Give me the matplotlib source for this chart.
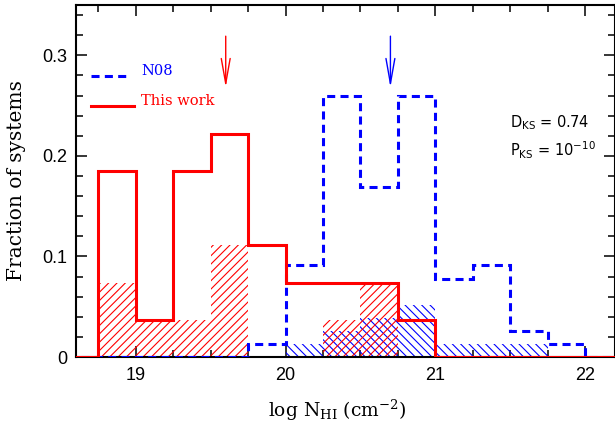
import matplotlib
matplotlib.use('Agg')
import matplotlib.pyplot as plt
from matplotlib.ticker import MultipleLocator, FuncFormatter
import numpy as np

# ---------------- data ----------------
bin_width = 0.25
this_work_start = 18.75
this_work = [0.185, 0.037, 0.185, 0.222, 0.111, 0.074, 0.074, 0.074, 0.037]
this_work_hatched = [0.074, 0.037, 0.037, 0.111, 0.0, 0.0, 0.037, 0.074, 0.0]

n08_start = 19.75
n08 = [0.013, 0.091, 0.260, 0.169, 0.260, 0.078, 0.091, 0.026, 0.013]
n08_hatched_start = 20.0
n08_hatched = [0.013, 0.026, 0.039, 0.052, 0.013, 0.013, 0.013]

arrow_this_work = 19.6
arrow_n08 = 20.7

x_ticks = [19, 20, 21, 22]
y_ticks = [0, 0.1, 0.2, 0.3]
legend_labels = ["N08", "This work"]
d_ks = "0.74"
p_ks_exp = "-10"

RED = "#ff0000"
BLUE = "#0000ff"

plt.rcParams['hatch.linewidth'] = 0.8
plt.rcParams['lines.scale_dashes'] = False

fig = plt.figure(figsize=(6.15, 4.25), dpi=100)
ax = fig.add_axes([76 / 615, 68 / 425, 539 / 615, 352 / 425])
xmin, xmax = 18.6, 22.2
ax.set_xlim(xmin, xmax)
ax.set_ylim(0, 0.35)


def padded(start, vals):
    edges = [start + bin_width * i for i in range(len(vals) + 1)]
    edges = [xmin - 0.5] + edges + [xmax + 0.5]
    values = [0.0] + list(vals) + [0.0]
    return values, edges


def lefts(start, vals):
    return [start + bin_width * i for i in range(len(vals))]


# hatched subsets
ax.bar(lefts(n08_hatched_start, n08_hatched), n08_hatched, width=bin_width,
       align='edge', fill=False, hatch='\\\\\\\\', edgecolor=BLUE, linewidth=0, zorder=2)
ax.bar(lefts(this_work_start, this_work_hatched), this_work_hatched, width=bin_width,
       align='edge', fill=False, hatch='////', edgecolor=RED, linewidth=0, zorder=2)

# step histograms
v, e = padded(n08_start, n08)
ax.stairs(v, e, baseline=None, color=BLUE, lw=2.2, linestyle=(0, (5.8, 3.8)), zorder=3)
v, e = padded(this_work_start, this_work)
ax.stairs(v, e, baseline=None, color=RED, lw=2.2, zorder=4)

# median arrows
for xa, col in [(arrow_this_work, RED), (arrow_n08, BLUE)]:
    ax.annotate('', xy=(xa, 0.268), xytext=(xa, 0.319),
                arrowprops=dict(arrowstyle='->,head_length=1.8,head_width=0.32',
                                color=col, lw=1.0, shrinkA=0, shrinkB=0))

# legend (manual)
tr = ax.transAxes
ax.plot([0.028, 0.097], [0.798, 0.798], transform=tr, color=BLUE, lw=2.2,
        linestyle=(0, (5.8, 3.8)))
ax.plot([0.028, 0.108], [0.713, 0.713], transform=tr, color=RED, lw=2.2)
ax.text(0.121, 0.813, legend_labels[0], transform=tr, color=BLUE, fontsize=10.5,
        family='DejaVu Serif', va='center', ha='left')
ax.text(0.121, 0.728, legend_labels[1], transform=tr, color=RED, fontsize=10.5,
        family='DejaVu Serif', va='center', ha='left')

# KS statistics
ax.text(0.805, 0.665, r'D$_{\rm KS}$ = ' + d_ks, transform=tr, fontsize=10.5,
        family='DejaVu Sans', math_fontfamily='dejavusans', va='center', ha='left')
ax.text(0.805, 0.588, r'P$_{\rm KS}$ = 10$^{' + p_ks_exp + '}$', transform=tr, fontsize=10.5,
        family='DejaVu Sans', math_fontfamily='dejavusans', va='center', ha='left')

# axes styling
ax.xaxis.set_major_locator(MultipleLocator(1))
ax.xaxis.set_minor_locator(MultipleLocator(0.25))
ax.yaxis.set_major_locator(MultipleLocator(0.1))
ax.yaxis.set_minor_locator(MultipleLocator(0.02))
ax.set_xticks(x_ticks)
ax.set_yticks(y_ticks)
ax.yaxis.set_major_formatter(FuncFormatter(lambda v, p: '0' if abs(v) < 1e-9 else f'{v:.1f}'))
ax.tick_params(which='both', direction='in', top=True, right=True, width=1.1, color='black')
ax.tick_params(which='major', length=8)
ax.tick_params(which='minor', length=5)
ax.tick_params(axis='x', which='major', pad=7)
ax.tick_params(axis='y', which='major', pad=6)
for lab in ax.get_xticklabels() + ax.get_yticklabels():
    lab.set_family('Liberation Sans')
    lab.set_fontsize(13)
for s in ax.spines.values():
    s.set_linewidth(1.5)

ax.text(-0.11, 0.5, 'Fraction of systems', transform=tr, rotation=90, fontsize=14.5,
        family='DejaVu Serif', va='center', ha='center')
ax.text(0.485, -0.153, r'log N$_{\rm HI}$ (cm$^{-2}$)', transform=tr, fontsize=13.5,
        family='DejaVu Serif', math_fontfamily='dejavuserif', va='center', ha='center')

fig.savefig('out.png', dpi=100)
